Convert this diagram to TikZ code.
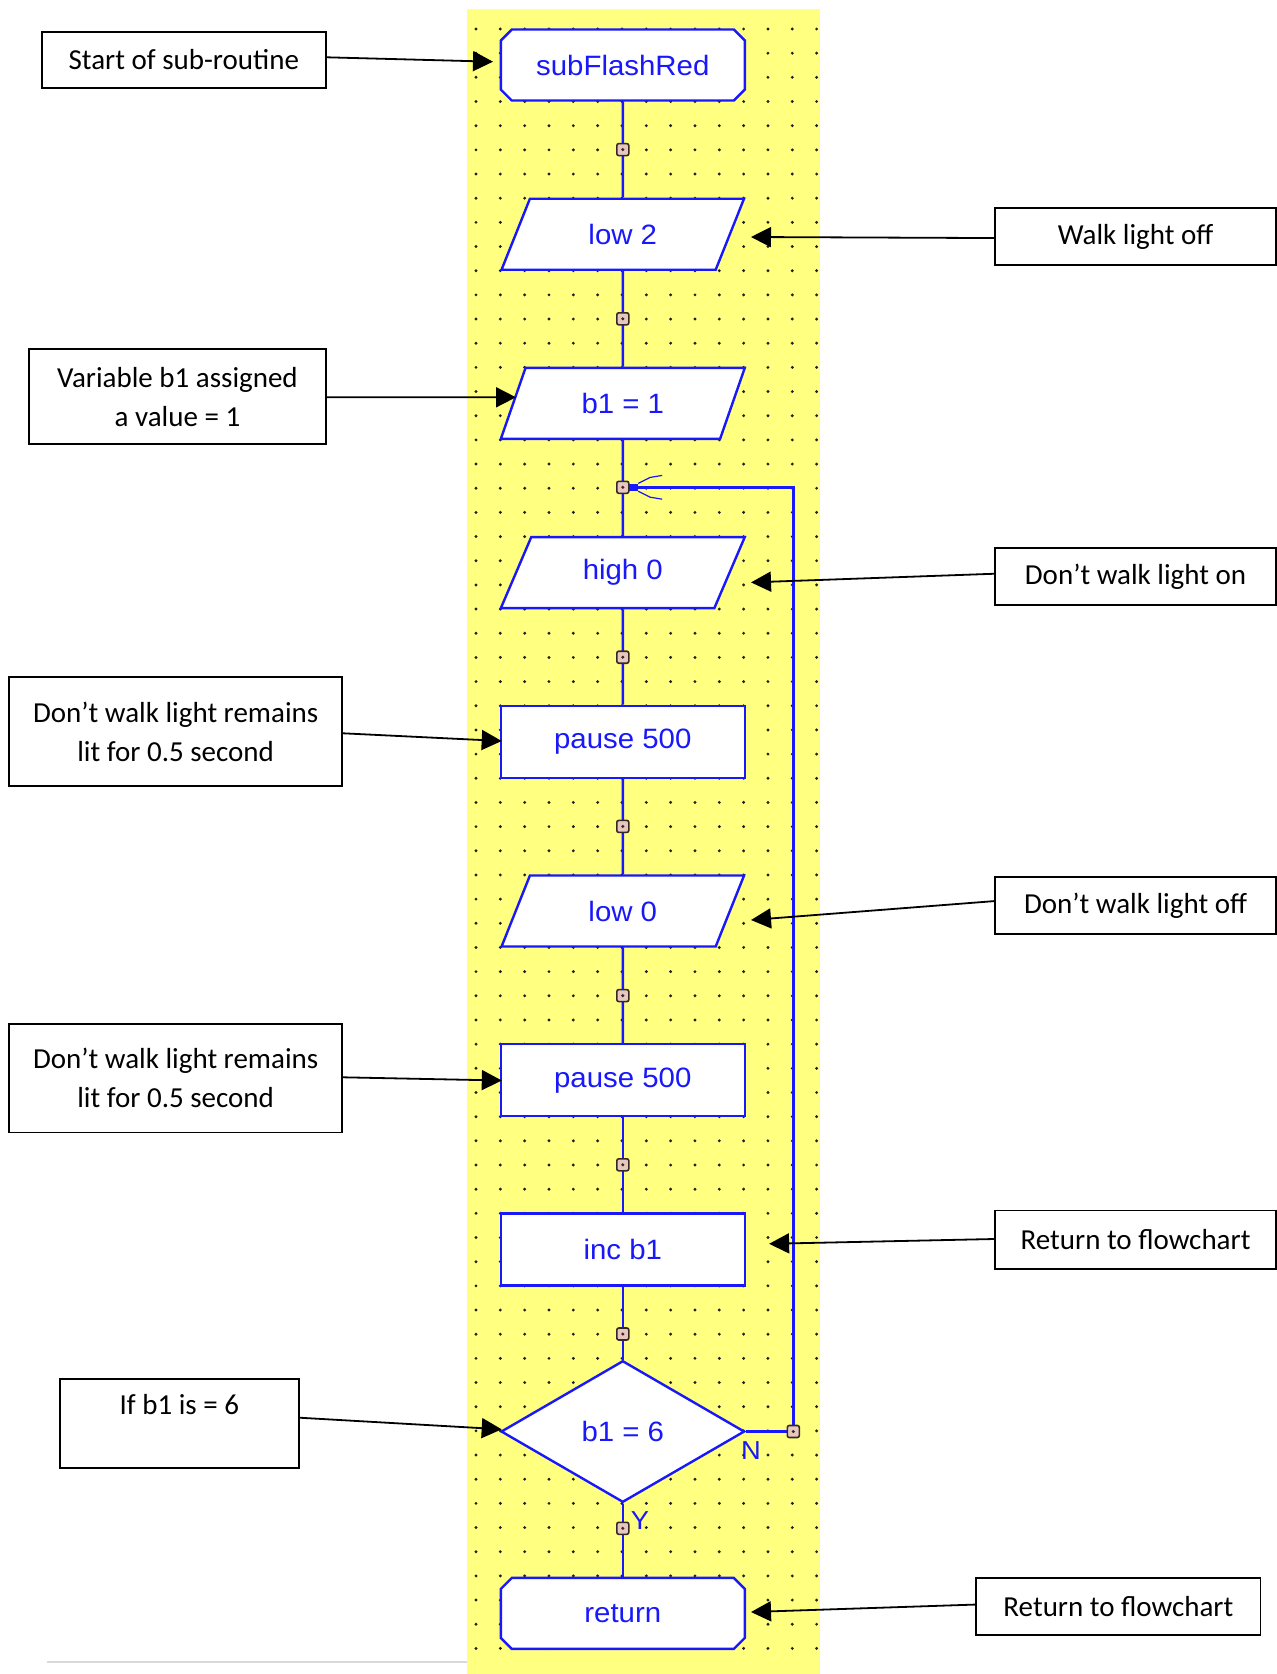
\documentclass[tikz,border=0pt]{standalone}
\usepackage{fontspec}
\setmainfont{Carlito}
\newfontfamily\chartfont[FakeStretch=1.05]{Liberation Sans}
\usetikzlibrary{arrows.meta,shapes.geometric,shapes.misc}

\definecolor{gridyellow}{RGB}{255,255,128}
\definecolor{flowblue}{RGB}{24,24,250}
\definecolor{dotgray}{RGB}{30,30,30}
\definecolor{joinfill}{RGB}{232,200,190}
\definecolor{joinedge}{RGB}{55,40,40}
\definecolor{rulegray}{RGB}{217,217,217}

\begin{document}
\begin{tikzpicture}[x=1pt,y=-1pt,
  flowline/.style={draw=flowblue, line width=2.4pt},
  forkline/.style={draw=flowblue, line width=1.2pt},
  flowtext/.style={font=\chartfont\fontsize{28}{30}\selectfont, text=flowblue},
  branchtext/.style={font=\chartfont\fontsize{26}{28}\selectfont, text=flowblue, inner sep=0pt},
  term/.style={flowtext, chamfered rectangle, chamfered rectangle xsep=5.5pt,
    chamfered rectangle ysep=5.5pt, draw=flowblue, line width=2.4pt, fill=white,
    inner sep=0pt, minimum width=244pt, minimum height=71pt},
  iobox/.style={flowtext, trapezium, trapezium left angle=63, trapezium right angle=117,
    trapezium stretches=true, draw=flowblue, line width=2.4pt, fill=white,
    inner sep=0pt, minimum width=244pt, minimum height=71pt},
  procbox/.style={flowtext, rectangle, draw=flowblue, line width=2.4pt, fill=white,
    inner sep=0pt, minimum width=244pt, minimum height=72pt},
  decbox/.style={flowtext, diamond, draw=flowblue, line width=2.4pt, fill=white,
    inner sep=0pt, minimum width=243.6pt, minimum height=141.6pt},
  joint/.style={rectangle, rounded corners=2pt, minimum size=12pt, inner sep=0pt,
    fill=joinfill, draw=joinedge, line width=1.6pt,
    path picture={\fill[joinedge] (path picture bounding box.center) circle (1.7pt);}},
  stub/.style={rectangle, fill=flowblue, inner sep=0pt, minimum width=11pt, minimum height=7.4pt},
  note/.style={draw=black, line width=1.8pt, inner sep=0pt, align=center,
    font=\fontsize{29}{39}\selectfont},
  callout/.style={draw=black, line width=1.8pt, -{Triangle[length=20pt,width=20pt]}},
]
\useasboundingbox (0,0) rectangle (1277,1674);

% page rule and the dotted editor background
\draw[rulegray, line width=2pt] (47,1662) -- (467,1662);
\fill[gridyellow] (467,9) rectangle (820,1674);
\foreach \i in {0,...,14}{
  \foreach \j in {0,...,67}{
    \fill[dotgray] (476+24.33*\i, 29+24.17*\j) circle (1.6pt);
  }
}

% flowchart symbols
\node[term]   (sub)    at (622.8,65)     {subFlashRed};
\node[iobox]  (low2)   at (622.8,234.2)  {low 2};
\node[iobox]  (b1)     at (622.8,403.4)  {b1 = 1};
\node[iobox]  (high0)  at (622.8,572.6)  {high 0};
\node[procbox](pause1) at (622.8,741.8)  {pause 500};
\node[iobox]  (low0)   at (622.8,911)    {low 0};
\node[procbox](pause2) at (622.8,1080.2) {pause 500};
\node[procbox](incb1)  at (622.8,1249.4) {inc b1};
\node[decbox] (dia)    at (622.8,1431.5) {b1 = 6};
\node[term]   (ret)    at (622.8,1613.4) {return};

% flow lines
\draw[flowline] (sub.south) -- (low2.north);
\draw[flowline] (low2.south) -- (b1.north);
\draw[flowline] (b1.south) -- (high0.north);
\draw[flowline] (high0.south) -- (pause1.north);
\draw[flowline] (pause1.south) -- (low0.north);
\draw[flowline] (low0.south) -- (pause2.north);
\draw[flowline] (pause2.south) -- (incb1.north);
\draw[flowline] (incb1.south) -- (dia.north);
\draw[flowline] (dia.south) -- (ret.north);

% loop back from the N branch
\coordinate (loopc) at (793.3,1431.5);
\node[stub] (jr) at (632.5,487.3) {};
\draw[flowline] (dia.east) -- (loopc) |- (jr.east);
\draw[forkline] (jr.north east) -- ++(12,-6) -- ++(12,-2);
\draw[forkline] (jr.south east) -- ++(12,6) -- ++(12,2);

% joints on the flow lines
\node[joint] (c1) at (622.8,149.6)  {};
\node[joint] (c2) at (622.8,318.8)  {};
\node[joint] (c3) at (622.8,487.3)  {};
\node[joint] (c4) at (622.8,657.2)  {};
\node[joint] (c5) at (622.8,826.4)  {};
\node[joint] (c6) at (622.8,995.6)  {};
\node[joint] (c7) at (622.8,1164.8) {};
\node[joint] (c8) at (622.8,1334)   {};
\node[joint] (c9) at (622.8,1528.3) {};
\node[joint] (cN) at (loopc) {};

% branch labels
\node[branchtext] (ylab) at (640,1521) {Y};
\node[branchtext] (nlab) at (751,1451) {N};

% explanatory notes
\node[note, minimum width=284.3pt, minimum height=56pt]   (nStart)  at (183.85,59.7)   {Start of sub-routine};
\node[note, minimum width=297pt,   minimum height=94.7pt] (nVar)    at (177.5,396.65)  {Variable b1 assigned\\a value = 1};
\node[note, minimum width=280.9pt, minimum height=57.1pt] (nWalk)   at (1135.55,236.75){Walk light off};
\node[note, minimum width=280.9pt, minimum height=57.1pt] (nDWon)   at (1135.55,576.75){Don’t walk light on};
\node[note, minimum width=333.3pt, minimum height=108.4pt](nRem1)   at (175.65,731.5)  {Don’t walk light remains\\lit for 0.5 second};
\node[note, minimum width=280.9pt, minimum height=56.5pt] (nDWoff)  at (1135.55,905.35){Don’t walk light off};
\node[note, minimum width=333.3pt, minimum height=108.4pt](nRem2)   at (175.65,1078.2) {Don’t walk light remains\\lit for 0.5 second};
\node[note, minimum width=280.9pt, minimum height=58.3pt] (nRet1)   at (1135.55,1239.65){Return to flowchart};
\node[note, minimum width=238.7pt, minimum height=89.3pt] (nIf)     at (179.35,1423.65){If b1 is = 6\\~};
\node[note, minimum width=284.2pt, minimum height=57.5pt] (nRet2)   at (1118.4,1606.55){Return to flowchart};

% pointers from the notes to the symbols
\draw[callout] ([shift={(0,-2.4)}]nStart.east) -- ([shift={(-129.8,-3.3)}]sub.center);
\draw[callout] ([shift={(0,0.6)}]nVar.east)    -- ([shift={(-106.8,-6.1)}]b1.center);
\draw[callout] ([shift={(0,1.3)}]nWalk.west)   -- ([shift={(128.2,2.8)}]low2.center);
\draw[callout] ([shift={(0,-3)}]nDWon.west)    -- ([shift={(128.2,9.8)}]high0.center);
\draw[callout] ([shift={(0,1.8)}]nRem1.east)   -- ([shift={(-121.1,-0.8)}]pause1.center);
\draw[callout] ([shift={(0,-4.25)}]nDWoff.west)-- ([shift={(128.2,9)}]low0.center);
\draw[callout] ([shift={(0,-0.9)}]nRem2.east)  -- ([shift={(-121,0.3)}]pause2.center);
\draw[callout] ([shift={(0,-0.65)}]nRet1.west) -- ([shift={(146.3,-5.6)}]incb1.center);
\draw[callout] ([shift={(0,-5.95)}]nIf.east)   -- ([shift={(-121.1,-2.2)}]dia.center);
\draw[callout] ([shift={(0,-2)}]nRet2.west)    -- ([shift={(128.2,-1.4)}]ret.center);
\end{tikzpicture}
\end{document}
